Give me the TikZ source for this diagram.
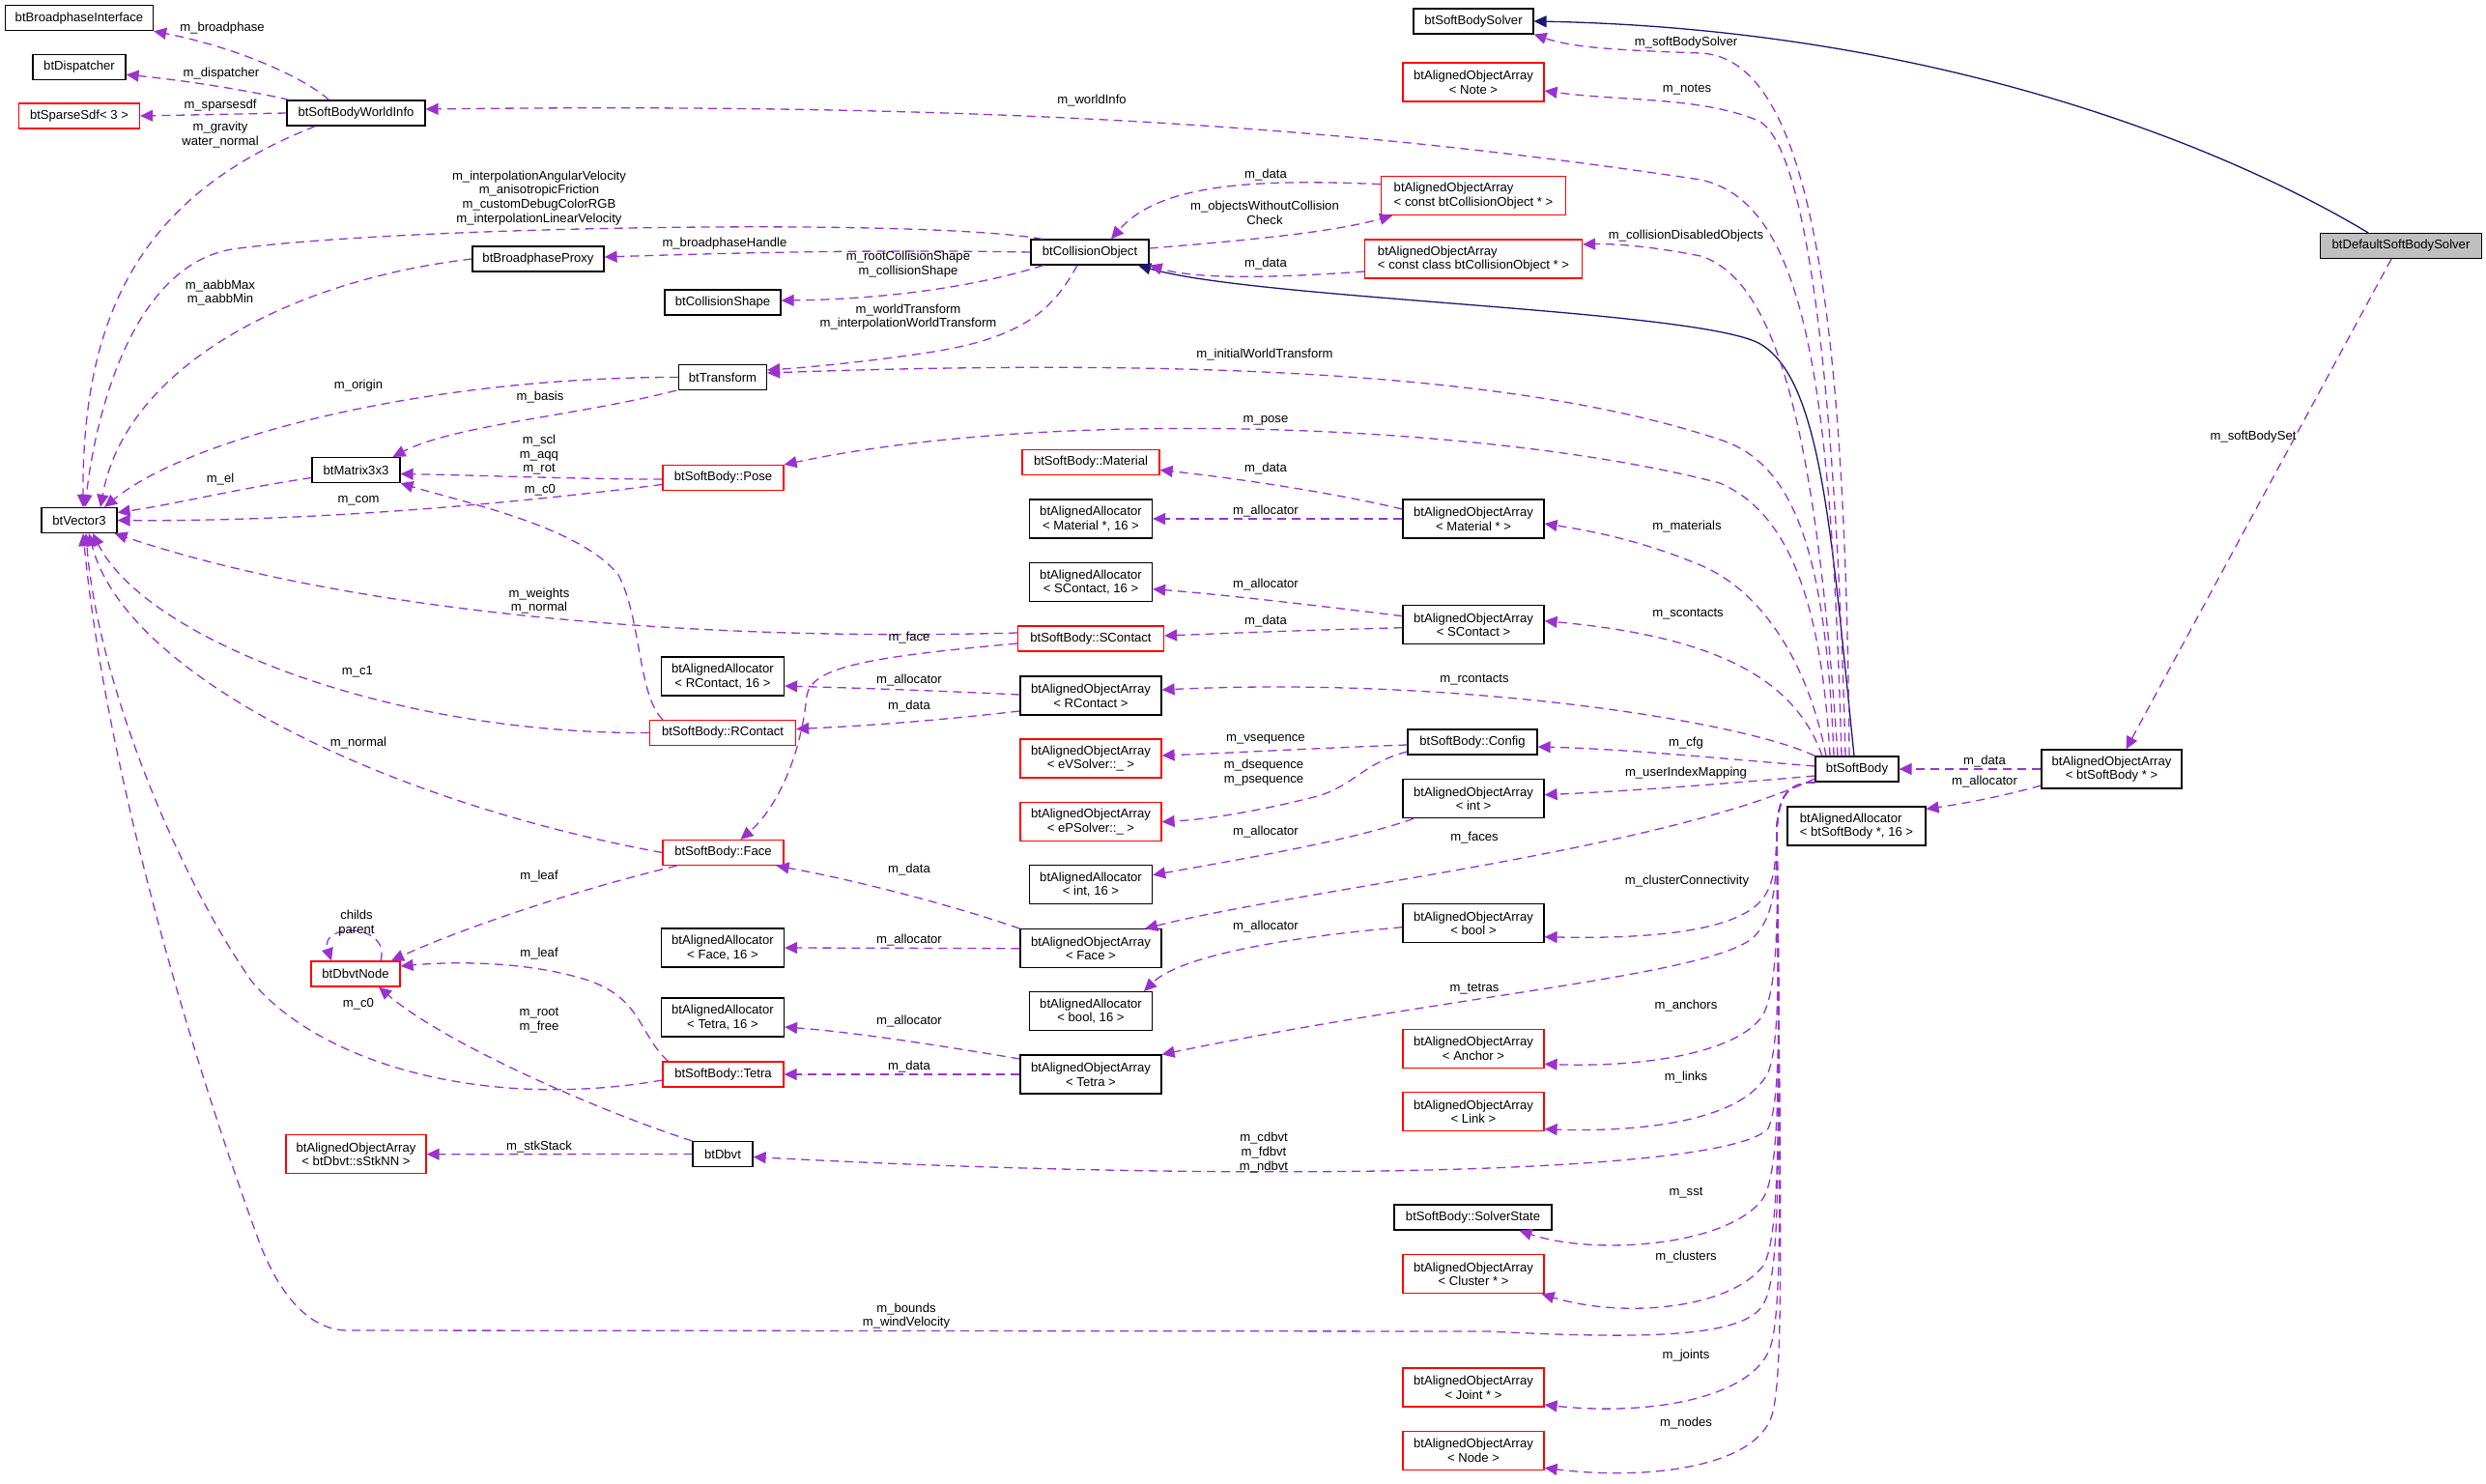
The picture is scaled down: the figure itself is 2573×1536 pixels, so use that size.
\documentclass[tikz,border=0pt]{standalone}
\usepackage{fontspec}
\setmainfont{Liberation Sans}
\usetikzlibrary{arrows.meta}
\definecolor{purp}{RGB}{154,50,205}
\definecolor{navyb}{RGB}{25,25,112}
\definecolor{grayfill}{RGB}{191,191,191}
\begin{document}
\begin{tikzpicture}[x=1pt,y=-1pt,font=\fontsize{13.1}{14.7}\selectfont,
  cbox/.style={draw=black,line width=1.2pt,fill=white,inner sep=0pt,align=center,minimum height=26pt},
  cbox2/.style={cbox,minimum height=40pt},
  rbox/.style={cbox,draw=red},
  rbox2/.style={cbox2,draw=red},
  lbl/.style={inner sep=0pt,align=center},
  dep/.style={draw=purp,line width=1.3pt,dash pattern=on 9pt off 6pt,-{Triangle[length=13pt,width=12pt]}},
  inh/.style={draw=navyb,line width=1.3pt,-{Triangle[length=13pt,width=12pt]}}]
\fill[white] (0,0) rectangle (2573,1536);
\useasboundingbox (0,0) rectangle (2573,1536);

% nodes
\node[cbox,minimum width=153pt] (bpi) at (82,18.7) {btBroadphaseInterface};
\node[cbox,minimum width=96pt] (disp) at (82,69.3) {btDispatcher};
\node[rbox,minimum width=125pt] (sdf) at (82,120) {btSparseSdf< 3 >};
\node[cbox,minimum width=143pt] (wi) at (368.5,117) {btSoftBodyWorldInfo};
\node[cbox,minimum width=136pt] (proxy) at (557,268) {btBroadphaseProxy};
\node[cbox,minimum width=120pt] (shape) at (748,313) {btCollisionShape};
\node[cbox,minimum width=91pt] (tr) at (748,390.5) {btTransform};
\node[cbox,minimum width=91pt] (mat) at (368.5,486.5) {btMatrix3x3};
\node[rbox,minimum width=125pt] (pose) at (748.5,494.5) {btSoftBody::Pose};
\node[cbox,minimum width=78pt] (v3) at (82,538.5) {btVector3};
\node[cbox,minimum width=124pt] (solver) at (1525,22) {btSoftBodySolver};
\node[rbox2,minimum width=146pt] (note) at (1525,85) {btAlignedObjectArray\\< Note >};
\node[cbox,minimum width=122pt] (co) at (1128,261) {btCollisionObject};
\node[rbox2,minimum width=191pt,align=left] (ccoa) at (1525,202.7) {btAlignedObjectArray\\< const btCollisionObject * >};
\node[rbox2,minimum width=225pt,align=left] (ccca) at (1525,268) {btAlignedObjectArray\\< const class btCollisionObject * >};
\node[rbox,minimum width=142pt] (material) at (1129,478.5) {btSoftBody::Material};
\node[cbox,minimum width=167pt,fill=grayfill] (dsbs) at (2485,254.5) {btDefaultSoftBodySolver};
\node[cbox2,minimum width=127pt] (aamat) at (1129,537) {btAlignedAllocator\\< Material *, 16 >};
\node[cbox2,minimum width=146pt] (oamat) at (1525,537) {btAlignedObjectArray\\< Material * >};
\node[cbox2,minimum width=127pt] (aasc) at (1129,602.7) {btAlignedAllocator\\< SContact, 16 >};
\node[cbox2,minimum width=146pt] (oasc) at (1525,646.7) {btAlignedObjectArray\\< SContact >};
\node[rbox,minimum width=151pt] (sc) at (1129,661) {btSoftBody::SContact};
\node[cbox2,minimum width=127pt] (aarc) at (748,700) {btAlignedAllocator\\< RContact, 16 >};
\node[cbox2,minimum width=146pt] (oarc) at (1129,720) {btAlignedObjectArray\\< RContact >};
\node[rbox,minimum width=151pt] (rc) at (748,758.5) {btSoftBody::RContact};
\node[cbox,minimum width=134pt] (cfg) at (1524,768) {btSoftBody::Config};
\node[rbox2,minimum width=146pt] (oaev) at (1129,785) {btAlignedObjectArray\\< eVSolver::\_ >};
\node[cbox2,minimum width=146pt] (oaint) at (1525,826.7) {btAlignedObjectArray\\< int >};
\node[rbox2,minimum width=146pt] (oaep) at (1129,850.7) {btAlignedObjectArray\\< ePSolver::\_ >};
\node[cbox2,minimum width=127pt] (aaint) at (1129,915.7) {btAlignedAllocator\\< int, 16 >};
\node[cbox2,minimum width=146pt] (oabool) at (1525,955.7) {btAlignedObjectArray\\< bool >};
\node[cbox2,minimum width=146pt] (oaface) at (1129,981.7) {btAlignedObjectArray\\< Face >};
\node[rbox,minimum width=125pt] (face) at (748.5,882.5) {btSoftBody::Face};
\node[cbox2,minimum width=127pt] (aaface) at (748,981) {btAlignedAllocator\\< Face, 16 >};
\node[rbox,minimum width=92pt] (dn) at (368,1008) {btDbvtNode};
\node[cbox,minimum width=86pt] (sb) at (1922,796) {btSoftBody};
\node[cbox2,minimum width=145pt] (oasb) at (2185.5,796) {btAlignedObjectArray\\< btSoftBody * >};
\node[cbox2,minimum width=143pt,align=left] (aasb) at (1921.5,855) {btAlignedAllocator\\< btSoftBody *, 16 >};
\node[cbox2,minimum width=127pt] (aatet) at (748,1053) {btAlignedAllocator\\< Tetra, 16 >};
\node[rbox,minimum width=125pt] (tet) at (748.5,1112) {btSoftBody::Tetra};
\node[rbox2,minimum width=145pt] (stk) at (368.5,1194.7) {btAlignedObjectArray\\< btDbvt::sStkNN >};
\node[cbox,minimum width=62pt] (dbvt) at (748,1194.5) {btDbvt};
\node[cbox2,minimum width=127pt] (aabool) at (1129,1046.7) {btAlignedAllocator\\< bool, 16 >};
\node[cbox2,minimum width=146pt] (oatet) at (1129,1112) {btAlignedObjectArray\\< Tetra >};
\node[rbox2,minimum width=146pt] (anchor) at (1525,1085.3) {btAlignedObjectArray\\< Anchor >};
\node[rbox2,minimum width=146pt] (link) at (1525,1150.7) {btAlignedObjectArray\\< Link >};
\node[cbox,minimum width=163pt] (sst) at (1524.5,1260) {btSoftBody::SolverState};
\node[rbox2,minimum width=146pt] (cluster) at (1525,1318.7) {btAlignedObjectArray\\< Cluster * >};
\node[rbox2,minimum width=146pt] (joint) at (1525,1436) {btAlignedObjectArray\\< Joint * >};
\node[rbox2,minimum width=146pt] (nodeA) at (1525,1501.3) {btAlignedObjectArray\\< Node >};

% edges: world info
\draw[dep] ([xshift=-28pt]wi.north) .. controls (312,78) and (240,48) .. (bpi.south east);
\draw[dep] ([xshift=-69pt]wi.north) .. controls (250,92) and (180,82) .. ([yshift=-8pt]disp.east);
\draw[dep] (wi.west) -- (sdf.east);
\draw[dep] ([xshift=-42pt]wi.south) .. controls (150,200) and (85,320) .. ([xshift=4pt]v3.north);
% into btVector3
\draw[dep] ([xshift=-49pt]co.north) .. controls (950,225) and (400,235) .. (240,258) .. controls (140,275) and (100,420) .. ([xshift=6pt]v3.north);
\draw[dep] (proxy.west) .. controls (300,290) and (130,380) .. ([xshift=22pt]v3.north);
\draw[dep] (tr.west) .. controls (450,390) and (200,450) .. ([xshift=26pt]v3.north);
\draw[dep] ([yshift=-8pt]mat.west) .. controls (250,505) and (180,522) .. ([yshift=8pt]v3.east);
\draw[dep] ([yshift=-7pt]pose.west) .. controls (500,525) and (300,540) .. (v3.east);
\draw[dep] ([yshift=-1.5pt]pose.west) .. controls (600,496) and (500,492) .. ([yshift=-4pt]mat.east);
\draw[dep] ([xshift=-62pt]rc.north) .. controls (660,720) and (664,640) .. (640,595) .. controls (600,545) and (480,520) .. (mat.south east);
\draw[dep] ([xshift=-48pt]tr.south) .. controls (600,430) and (470,440) .. ([xshift=38pt]mat.north);
\draw[dep] ([yshift=6pt]sc.west) .. controls (700,665) and (350,630) .. ([xshift=-3pt]v3.south east);
\draw[dep] (rc.west) .. controls (400,760) and (150,660) .. ([xshift=14pt]v3.south);
\draw[dep] (face.west) .. controls (400,830) and (130,700) .. ([xshift=10pt]v3.south);
\draw[dep] ([yshift=-6pt]tet.west) .. controls (500,1150) and (330,1100) .. (260,1015) .. controls (180,900) and (100,700) .. ([xshift=7pt]v3.south);
\draw[dep] (sb.south west) .. controls (1850,810) and (1840,825) .. (1839,860) .. controls (1842,1200) and (1843,1320) .. (1825,1350) .. controls (1805,1385) and (1700,1386) .. (1540,1378) -- (360,1377) .. controls (320,1377) and (290,1340) .. (270,1290) .. controls (200,1100) and (110,800) .. ([xshift=4pt]v3.south);

% btSoftBody upper fan
\draw[inh] ([xshift=-3pt]sb.north) .. controls (1895,550) and (1885,390) .. (1820,355) .. controls (1750,320) and (1300,310) .. ([xshift=50pt]co.south);
\draw[dep] ([xshift=-8pt]sb.north) .. controls (1910,300) and (1870,60) .. (1760,55) .. controls (1680,52) and (1630,50) .. (solver.south east);
\draw[dep] ([xshift=-12pt]sb.north) .. controls (1900,400) and (1870,150) .. (1820,125) .. controls (1760,100) and (1680,105) .. ([yshift=-9pt]note.east);
\draw[dep] ([xshift=-16pt]sb.north) .. controls (1895,400) and (1870,210) .. (1760,186) .. controls (1450,140) and (1100,105) .. ([yshift=4pt]wi.east);
\draw[dep] ([xshift=-20pt]sb.north) .. controls (1880,450) and (1840,290) .. (1760,265) .. controls (1710,255) and (1670,252) .. ([yshift=15pt]ccca.east);
\draw[dep] ([xshift=-24pt]sb.north) .. controls (1890,580) and (1860,480) .. (1780,455) .. controls (1600,395) and (1300,368) .. ([yshift=4.5pt]tr.east);
\draw[dep] ([xshift=-28pt]sb.north) .. controls (1885,620) and (1850,530) .. (1780,500) .. controls (1550,440) and (1100,420) .. (pose.north east);
\draw[dep] ([xshift=-32pt]sb.north) .. controls (1870,680) and (1820,610) .. (1760,585) .. controls (1700,560) and (1650,550) .. ([yshift=-5pt]oamat.east);
\draw[dep] ([xshift=-36pt]sb.north) .. controls (1860,710) and (1790,660) .. ([yshift=4pt]oasc.east);
\draw[dep] (sb.north west) .. controls (1800,745) and (1500,700) .. ([yshift=6pt]oarc.east);
\draw[dep] ([yshift=3pt]sb.west) .. controls (1780,785) and (1680,775) .. ([yshift=-5pt]cfg.east);
\draw[dep] ([yshift=-7pt]sb.west) .. controls (1800,810) and (1700,818) .. ([yshift=4pt]oaint.east);
\draw[dep] ([yshift=-10pt]sb.west) .. controls (1720,880) and (1350,920) .. ([xshift=56pt]oaface.north);
% btSoftBody lower fan
\draw[dep] (sb.south west) .. controls (1850,810) and (1840,825) .. (1839,860) .. controls (1838,900) and (1835,920) .. (1820,935) .. controls (1790,965) and (1700,972) .. ([yshift=-14pt]oabool.east);
\draw[dep] (sb.south west) .. controls (1850,810) and (1840,825) .. (1839,860) .. controls (1839,920) and (1835,950) .. (1815,970) .. controls (1770,1010) and (1500,1030) .. (oatet.north east);
\draw[dep] (sb.south west) .. controls (1850,810) and (1840,825) .. (1839,860) .. controls (1840,950) and (1840,1020) .. (1825,1050) .. controls (1800,1090) and (1700,1105) .. ([yshift=-16pt]anchor.east);
\draw[dep] (sb.south west) .. controls (1850,810) and (1840,825) .. (1839,860) .. controls (1841,1000) and (1842,1080) .. (1830,1110) .. controls (1805,1160) and (1700,1172) .. ([yshift=-18pt]link.east);
\draw[dep] (sb.south west) .. controls (1850,810) and (1840,825) .. (1839,860) .. controls (1842,1050) and (1843,1140) .. (1830,1168) .. controls (1790,1215) and (1300,1225) .. ([yshift=-3pt]dbvt.east);
\draw[dep] (sb.south west) .. controls (1850,810) and (1840,825) .. (1839,860) .. controls (1842,1100) and (1843,1210) .. (1825,1240) .. controls (1790,1290) and (1650,1300) .. ([xshift=48pt]sst.south);
\draw[dep] (sb.south west) .. controls (1850,810) and (1840,825) .. (1839,860) .. controls (1842,1150) and (1843,1280) .. (1825,1310) .. controls (1790,1355) and (1680,1365) .. ([xshift=-3pt]cluster.south east);
\draw[dep] (sb.south west) .. controls (1850,810) and (1840,825) .. (1839,860) .. controls (1843,1250) and (1845,1370) .. (1830,1400) .. controls (1805,1450) and (1700,1465) .. ([yshift=-18pt]joint.east);
\draw[dep] (sb.south west) .. controls (1850,810) and (1840,825) .. (1839,860) .. controls (1844,1300) and (1846,1440) .. (1832,1470) .. controls (1810,1520) and (1700,1532) .. ([yshift=-18pt]nodeA.east);

% right side
\draw[dep] (oasb.west) -- (sb.east);
\draw[dep] ([yshift=-17pt]oasb.west) .. controls (2070,825) and (2030,832) .. ([yshift=-3pt]aasb.north east);
\draw[dep] ([xshift=-10pt]dsbs.south) -- ([xshift=15pt]oasb.north);
\draw[inh] ([xshift=-34pt]dsbs.north) .. controls (2300,150) and (2000,30) .. (solver.east);

% middle
\draw[dep] (co.west) .. controls (900,258) and (750,262) .. ([yshift=2pt]proxy.east);
\draw[dep] ([xshift=-48pt]co.south) .. controls (1000,300) and (900,310) .. ([yshift=2pt]shape.east);
\draw[dep] ([xshift=-13pt]co.south) .. controls (1090,320) and (1060,350) .. (960,365) .. controls (900,374) and (840,380) .. ([yshift=7.5pt]tr.east);
\draw[dep] ([yshift=12pt]ccoa.west) .. controls (1300,185) and (1200,190) .. ([xshift=22pt]co.north);
\draw[dep] ([yshift=4pt]co.east) .. controls (1300,248) and (1380,240) .. ([xshift=-84pt]ccoa.south);
\draw[dep] ([yshift=-13pt]ccca.west) .. controls (1330,287) and (1240,290) .. (co.south east);
\draw[dep] ([yshift=10pt]oamat.west) .. controls (1380,510) and (1280,495) .. ([yshift=-8pt]material.east);
\draw[dep] (oamat.west) -- (aamat.east);
\draw[dep] ([yshift=9pt]oasc.west) .. controls (1350,625) and (1260,615) .. ([yshift=-7pt]aasc.east);
\draw[dep] ([yshift=-3pt]oasc.west) .. controls (1360,652) and (1280,655) .. ([yshift=3pt]sc.east);
\draw[dep] ([yshift=-5pt]sc.west) .. controls (900,680) and (840,690) .. (835,720) .. controls (828,790) and (800,840) .. ([xshift=18pt]face.north);
\draw[dep] ([yshift=1pt]oarc.west) .. controls (950,714) and (880,712) .. ([yshift=-10pt]aarc.east);
\draw[dep] ([yshift=-16pt]oarc.west) .. controls (950,748) and (880,752) .. ([yshift=4pt]rc.east);
\draw[dep] ([yshift=-3pt]cfg.west) .. controls (1370,774) and (1280,779) .. ([yshift=3pt]oaev.east);
\draw[dep] ([yshift=-10pt]cfg.west) .. controls (1410,790) and (1400,815) .. (1360,825) .. controls (1300,840) and (1250,848) .. (oaep.east);
\draw[dep] ([xshift=-62pt]oaint.south) .. controls (1400,870) and (1280,890) .. ([yshift=10pt]aaint.east);
\draw[dep] ([yshift=-4pt]oabool.west) .. controls (1330,970) and (1220,990) .. ([xshift=55pt]aabool.north);
\draw[dep] (oaface.north west) .. controls (980,935) and (880,910) .. ([xshift=-8pt]face.south east);
\draw[dep] (oaface.west) -- (aaface.east);
\draw[dep] ([yshift=16pt]oatet.west) .. controls (960,1080) and (880,1068) .. ([yshift=-10pt]aatet.east);
\draw[dep] (oatet.west) -- (tet.east);
\draw[dep] ([xshift=-48pt]face.south) .. controls (600,920) and (480,960) .. ([xshift=37pt]dn.north);
\draw[dep] ([xshift=-57pt]tet.north) .. controls (660,1070) and (665,1030) .. (600,1012) .. controls (540,995) and (470,995) .. ([yshift=8pt]dn.east);
\draw[dep] (dbvt.north west) .. controls (620,1150) and (460,1080) .. ([xshift=24pt]dn.south);
\draw[dep] ([xshift=26pt]dn.north) .. controls (405,955) and (330,955) .. ([xshift=-25pt]dn.north);
\draw[dep] (dbvt.west) -- (stk.east);

% labels
\node[lbl] (l1) at (230,29) {m\_broadphase};
\node[lbl] (l2) at (229,76) {m\_dispatcher};
\node[lbl] (l3) at (228,108.7) {m\_sparsesdf};
\node[lbl] (l4) at (228,139.3) {m\_gravity\\water\_normal};
\node[lbl] (l5) at (558,204.7) {m\_interpolationAngularVelocity\\m\_anisotropicFriction\\m\_customDebugColorRGB\\m\_interpolationLinearVelocity};
\node[lbl] (l6) at (750,251.7) {m\_broadphaseHandle};
\node[lbl] (l7) at (228,303) {m\_aabbMax\\m\_aabbMin};
\node[lbl] (l8) at (371,399.3) {m\_origin};
\node[lbl] (l9) at (559,410.7) {m\_basis};
\node[lbl] (l10) at (558,470.7) {m\_scl\\m\_aqq\\m\_rot};
\node[lbl] (l11) at (559,507.7) {m\_c0};
\node[lbl] (l12) at (228,496) {m\_el};
\node[lbl] (l13) at (371,518) {m\_com};
\node[lbl] (l14) at (1130,103.7) {m\_worldInfo};
\node[lbl] (l15) at (1310,181) {m\_data};
\node[lbl] (l16) at (1309,220.2) {m\_objectsWithoutCollision\\Check};
\node[lbl] (l17) at (1310,272.7) {m\_data};
\node[lbl] (l18) at (940,273.7) {m\_rootCollisionShape\\m\_collisionShape};
\node[lbl] (l19) at (940,328) {m\_worldTransform\\m\_interpolationWorldTransform};
\node[lbl] (l20) at (1309,366.7) {m\_initialWorldTransform};
\node[lbl] (l21) at (1310,435.7) {m\_pose};
\node[lbl] (l22) at (1310,485) {m\_data};
\node[lbl] (l23) at (1745,44) {m\_softBodySolver};
\node[lbl] (l24) at (1746,92.7) {m\_notes};
\node[lbl] (l25) at (1745,243.7) {m\_collisionDisabledObjects};
\node[lbl] (l26) at (2332,451.7) {m\_softBodySet};
\node[lbl] (l27) at (558,622) {m\_weights\\m\_normal};
\node[lbl] (l28) at (370,695) {m\_c1};
\node[lbl] (l29) at (371,768.7) {m\_normal};
\node[lbl] (l30) at (558,906.7) {m\_leaf};
\node[lbl] (l31) at (369,955.3) {childs\\parent};
\node[lbl] (l32) at (558,986.7) {m\_leaf};
\node[lbl] (l33) at (1310,529) {m\_allocator};
\node[lbl] (l34) at (1310,605) {m\_allocator};
\node[lbl] (l35) at (1310,642.7) {m\_data};
\node[lbl] (l36) at (941,659.7) {m\_face};
\node[lbl] (l37) at (941,703.7) {m\_allocator};
\node[lbl] (l38) at (941,730.7) {m\_data};
\node[lbl] (l39) at (1526,703.7) {m\_rcontacts};
\node[lbl] (l40) at (1310,765) {m\_vsequence};
\node[lbl] (l41) at (1308,799.5) {m\_dsequence\\m\_psequence};
\node[lbl] (l42) at (1310,860.7) {m\_allocator};
\node[lbl] (l43) at (1526,867) {m\_faces};
\node[lbl] (l44) at (941,899.7) {m\_data};
\node[lbl] (l45) at (1310,958.7) {m\_allocator};
\node[lbl] (l46) at (941,973) {m\_allocator};
\node[lbl] (l47) at (1746,545) {m\_materials};
\node[lbl] (l48) at (1747,635.7) {m\_scontacts};
\node[lbl] (l49) at (1745,769) {m\_cfg};
\node[lbl] (l50) at (1745,800) {m\_userIndexMapping};
\node[lbl] (l51) at (1746,912) {m\_clusterConnectivity};
\node[lbl] (l52) at (2054,787.7) {m\_data};
\node[lbl] (l53) at (2054,809) {m\_allocator};
\node[lbl] (l54) at (371,1039.7) {m\_c0};
\node[lbl] (l55) at (558,1056.3) {m\_root\\m\_free};
\node[lbl] (l56) at (558,1186.7) {m\_stkStack};
\node[lbl] (l57) at (1526,1024) {m\_tetras};
\node[lbl] (l58) at (941,1056.7) {m\_allocator};
\node[lbl] (l59) at (941,1103.7) {m\_data};
\node[lbl] (l60) at (1308,1193.2) {m\_cdbvt\\m\_fdbvt\\m\_ndbvt};
\node[lbl] (l61) at (938,1362) {m\_bounds\\m\_windVelocity};
\node[lbl] (l62) at (1745,1040.7) {m\_anchors};
\node[lbl] (l63) at (1745,1114.7) {m\_links};
\node[lbl] (l64) at (1745,1234.7) {m\_sst};
\node[lbl] (l65) at (1745,1300.7) {m\_clusters};
\node[lbl] (l66) at (1745,1402.7) {m\_joints};
\node[lbl] (l67) at (1745,1472.7) {m\_nodes};
\end{tikzpicture}
\end{document}
